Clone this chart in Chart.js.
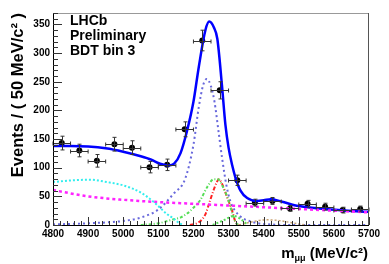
<!DOCTYPE html>
<html>
<head>
<meta charset="utf-8">
<script src="https://cdn.jsdelivr.net/npm/chart.js@4.4.1/dist/chart.umd.min.js"></script>
<style>
  html, body { margin: 0; padding: 0; background: #fff; }
  #wrap { width: 389px; height: 264px; }
</style>
</head>
<body>
<div id="wrap"><canvas id="massChart" width="389" height="264"></canvas></div>
<script>
// data points: bin centres (MeV/c^2), events per bin, errors
const binCentres = [4825, 4875, 4925, 4975, 5025, 5075, 5125, 5175, 5225, 5275, 5325, 5375, 5425, 5475, 5525, 5575, 5625, 5675];
const counts     = [143, 130, 112, 141, 135, 101, 105, 167, 322, 235, 78, 39, 42, 29, 37, 32, 26, 28];
const countErr   = [12, 11, 11, 12, 12, 10, 10, 13, 18, 15, 9, 6, 6, 5, 6, 6, 5, 5];
const binHalfWidth = 25;

// fit curves
const fitX = [4800, 4850, 4900, 4950, 5000, 5050, 5080, 5105, 5130, 5145, 5163, 5182, 5200, 5215, 5234, 5245, 5258, 5268, 5281, 5291, 5300, 5310, 5320, 5334, 5353, 5380, 5400, 5420, 5450, 5500, 5590, 5700];
const fitY = [138, 138, 137, 134, 128, 120, 114, 107, 104, 107, 125, 165, 215, 275, 340, 355, 345, 325, 245, 175, 135, 105, 82, 60, 47, 42, 43, 45, 41, 33, 27, 23];

const sigX = [4800, 4900, 5000, 5050, 5100, 5144, 5176, 5200, 5215, 5228, 5238, 5250, 5260, 5270, 5282, 5294, 5306, 5330, 5370, 5420, 5500, 5700];
const sigY = [1, 3, 7, 13, 27, 55, 80, 140, 205, 245, 255, 242, 215, 170, 115, 69, 40, 17, 5, 1, 0, 0];

const combX = [4800, 4858, 4906, 4953, 5001, 5049, 5087, 5125, 5144, 5160, 5170];
const combY = [75, 78, 79, 75, 69, 57, 40, 19, 11, 3, 0];

const bkgX = [4800, 4900, 5000, 5100, 5200, 5300, 5400, 5500, 5600, 5700];
const bkgY = [61, 50, 44, 40, 37, 34, 31, 28, 25, 22];

const redX = [5190, 5210, 5225, 5235, 5247, 5258, 5266, 5272, 5280, 5295, 5310, 5320, 5330];
const redY = [0, 3, 10, 20, 42, 62, 74, 80, 74, 50, 25, 5, 0];

const greenX = [5050, 5100, 5144, 5163, 5182, 5200, 5220, 5239, 5258, 5270, 5285, 5297, 5310, 5320, 5330];
const greenY = [0, 3, 10, 13, 20, 30, 44, 66, 80, 80, 65, 48, 22, 5, 0];

const humpX = [5255, 5285, 5315, 5335, 5355];
const humpY = [0, 8, 16, 10, 0];

const tanX = [5330, 5370, 5410, 5440, 5480, 5520];
const tanY = [0, 6, 9, 8, 4, 0];

const xTicks = [4800, 4900, 5000, 5100, 5200, 5300, 5400, 5500, 5600, 5700];
const yTicks = [0, 50, 100, 150, 200, 250, 300, 350];

const FONT = 'Liberation Sans, Arial, Helvetica, sans-serif';

function pts(xs, ys) {
  return xs.map((x, i) => ({ x: x, y: ys[i] }));
}

function curve(xs, ys, color, width, dash) {
  return {
    data: pts(xs, ys),
    showLine: true,
    borderColor: color,
    borderWidth: width,
    borderDash: dash,
    pointRadius: 0,
    fill: false,
    cubicInterpolationMode: 'monotone'
  };
}

// error bars for the data points
const errorBars = {
  id: 'errorBars',
  afterDatasetsDraw(chart) {
    const xs = chart.scales.x, ys = chart.scales.y, c = chart.ctx;
    c.save();
    c.strokeStyle = '#333';
    c.lineWidth = 1;
    binCentres.forEach((m, i) => {
      const px = Math.round(xs.getPixelForValue(m)) + 0.5;
      const py = Math.round(ys.getPixelForValue(counts[i])) + 0.5;
      const x0 = xs.getPixelForValue(m - binHalfWidth), x1 = xs.getPixelForValue(m + binHalfWidth);
      const y0 = ys.getPixelForValue(counts[i] - countErr[i]), y1 = ys.getPixelForValue(counts[i] + countErr[i]);
      c.beginPath();
      c.moveTo(x0, py); c.lineTo(x1, py);
      c.moveTo(x0, py - 2); c.lineTo(x0, py + 2);
      c.moveTo(x1, py - 2); c.lineTo(x1, py + 2);
      c.moveTo(px, y0); c.lineTo(px, y1);
      c.moveTo(px - 2, y0); c.lineTo(px + 2, y0);
      c.moveTo(px - 2, y1); c.lineTo(px + 2, y1);
      c.stroke();
    });
    c.restore();
  }
};

// ROOT style frame with inward ticks, titles and labels
const frame = {
  id: 'frame',
  afterDraw(chart) {
    const a = chart.chartArea, c = chart.ctx, xs = chart.scales.x, ys = chart.scales.y;
    c.save();
    c.lineWidth = 1;
    c.strokeStyle = '#999';
    c.beginPath();
    c.moveTo(a.left, a.top + 0.5); c.lineTo(a.right, a.top + 0.5);
    c.stroke();
    c.strokeStyle = '#555';
    c.beginPath();
    c.moveTo(a.right - 0.5, a.top); c.lineTo(a.right - 0.5, a.bottom);
    c.stroke();
    c.strokeStyle = '#000';
    c.beginPath();
    c.moveTo(a.left + 0.5, a.top); c.lineTo(a.left + 0.5, a.bottom + 0.5);
    c.lineTo(a.right, a.bottom + 0.5);
    c.stroke();

    c.strokeStyle = '#333';
    c.beginPath();
    for (let i = 0; i < xTicks.length; i++) {
      let px = Math.round(xs.getPixelForValue(xTicks[i])) + 0.5;
      c.moveTo(px, a.bottom); c.lineTo(px, a.bottom - 8);
      if (i < xTicks.length - 1) {
        const step = (xTicks[i + 1] - xTicks[i]) / 5;
        for (let k = 1; k < 5; k++) {
          px = Math.round(xs.getPixelForValue(xTicks[i] + k * step)) + 0.5;
          c.moveTo(px, a.bottom); c.lineTo(px, a.bottom - 4);
        }
      }
    }
    for (let i = 0; i < yTicks.length; i++) {
      let py = Math.round(ys.getPixelForValue(yTicks[i])) + 0.5;
      c.moveTo(a.left, py); c.lineTo(a.left + 9, py);
      const step = 10;
      for (let k = 1; k < 5; k++) {
        const v = yTicks[i] + k * step;
        if (v > ys.max) break;
        py = Math.round(ys.getPixelForValue(v)) + 0.5;
        c.moveTo(a.left, py); c.lineTo(a.left + 5, py);
      }
    }
    c.stroke();

    // labels in the top-left corner
    c.fillStyle = '#000';
    c.font = 'bold 14px ' + FONT;
    c.textAlign = 'left';
    c.textBaseline = 'alphabetic';
    c.fillText('LHCb', 70, 25);
    c.fillText('Preliminary', 70, 40);
    c.fillText('BDT bin 3', 70, 55);

    // y title
    c.save();
    c.translate(18, 13);
    c.rotate(-Math.PI / 2);
    c.font = 'bold 16.5px ' + FONT;
    c.textAlign = 'right';
    c.textBaseline = 'middle';
    c.fillText('Events / ( 50 MeV/c\u00b2 )', 0, 0);
    c.restore();

    // x title: m_{mu mu} (MeV/c^2)
    const big = 'bold 15px ' + FONT, small = 'bold 9px ' + FONT;
    c.textAlign = 'left';
    c.textBaseline = 'alphabetic';
    c.font = big;
    const w1 = c.measureText('m').width;
    const w3 = c.measureText(' (MeV/c\u00b2)').width;
    c.font = small;
    const w2 = c.measureText('\u03bc\u03bc').width;
    let x = 368 - (w1 + w2 + w3);
    const base = 258;
    c.font = big;
    c.fillText('m', x, base);
    x += w1;
    c.font = small;
    c.fillText('\u03bc\u03bc', x, base + 3);
    x += w2;
    c.font = big;
    c.fillText(' (MeV/c\u00b2)', x, base);
    c.restore();
  }
};

const ctx = document.getElementById('massChart').getContext('2d');

new Chart(ctx, {
  type: 'scatter',
  data: {
    datasets: [
      curve(tanX, tanY, '#c8a070', 1.5, [2, 2]),
      curve(combX, combY, '#33eeee', 2, [2, 2]),
      curve(bkgX, bkgY, '#ff22ff', 2.5, [3, 3]),
      curve(greenX, greenY, '#55dd55', 2, [3, 2, 1, 2]),
      curve(humpX, humpY, '#55dd55', 2, [2, 2]),
      curve(redX, redY, '#ff2020', 2, [4, 2, 1, 2]),
      curve(sigX, sigY, '#6868dc', 2, [2, 3]),
      curve(fitX, fitY, '#0000ff', 2.5, []),
      {
        data: pts(binCentres, counts),
        showLine: false,
        pointRadius: 3,
        pointBackgroundColor: '#000',
        pointBorderColor: '#000',
        pointBorderWidth: 0
      }
    ]
  },
  options: {
    responsive: false,
    animation: false,
    layout: { padding: { left: 0, top: 13, right: 20, bottom: 0 } },
    plugins: {
      legend: { display: false },
      tooltip: { enabled: false }
    },
    scales: {
      x: {
        type: 'linear',
        min: 4800,
        max: 5700,
        afterBuildTicks: s => { s.ticks = xTicks.map(v => ({ value: v })); },
        afterFit: s => { s.height = 39; },
        grid: { display: false, drawTicks: false },
        border: { display: false },
        ticks: {
          font: { family: FONT, size: 10, weight: 'bold' },
          color: '#000',
          padding: 3,
          maxRotation: 0,
          autoSkip: false,
          callback: v => String(v)
        }
      },
      y: {
        min: 0,
        max: 370,
        afterBuildTicks: s => { s.ticks = yTicks.map(v => ({ value: v })); },
        afterFit: s => { s.width = 53; },
        grid: { display: false, drawTicks: false },
        border: { display: false },
        ticks: {
          font: { family: FONT, size: 10, weight: 'bold' },
          color: '#000',
          padding: 3,
          callback: v => String(v)
        }
      }
    }
  },
  plugins: [errorBars, frame]
});
</script>
</body>
</html>
